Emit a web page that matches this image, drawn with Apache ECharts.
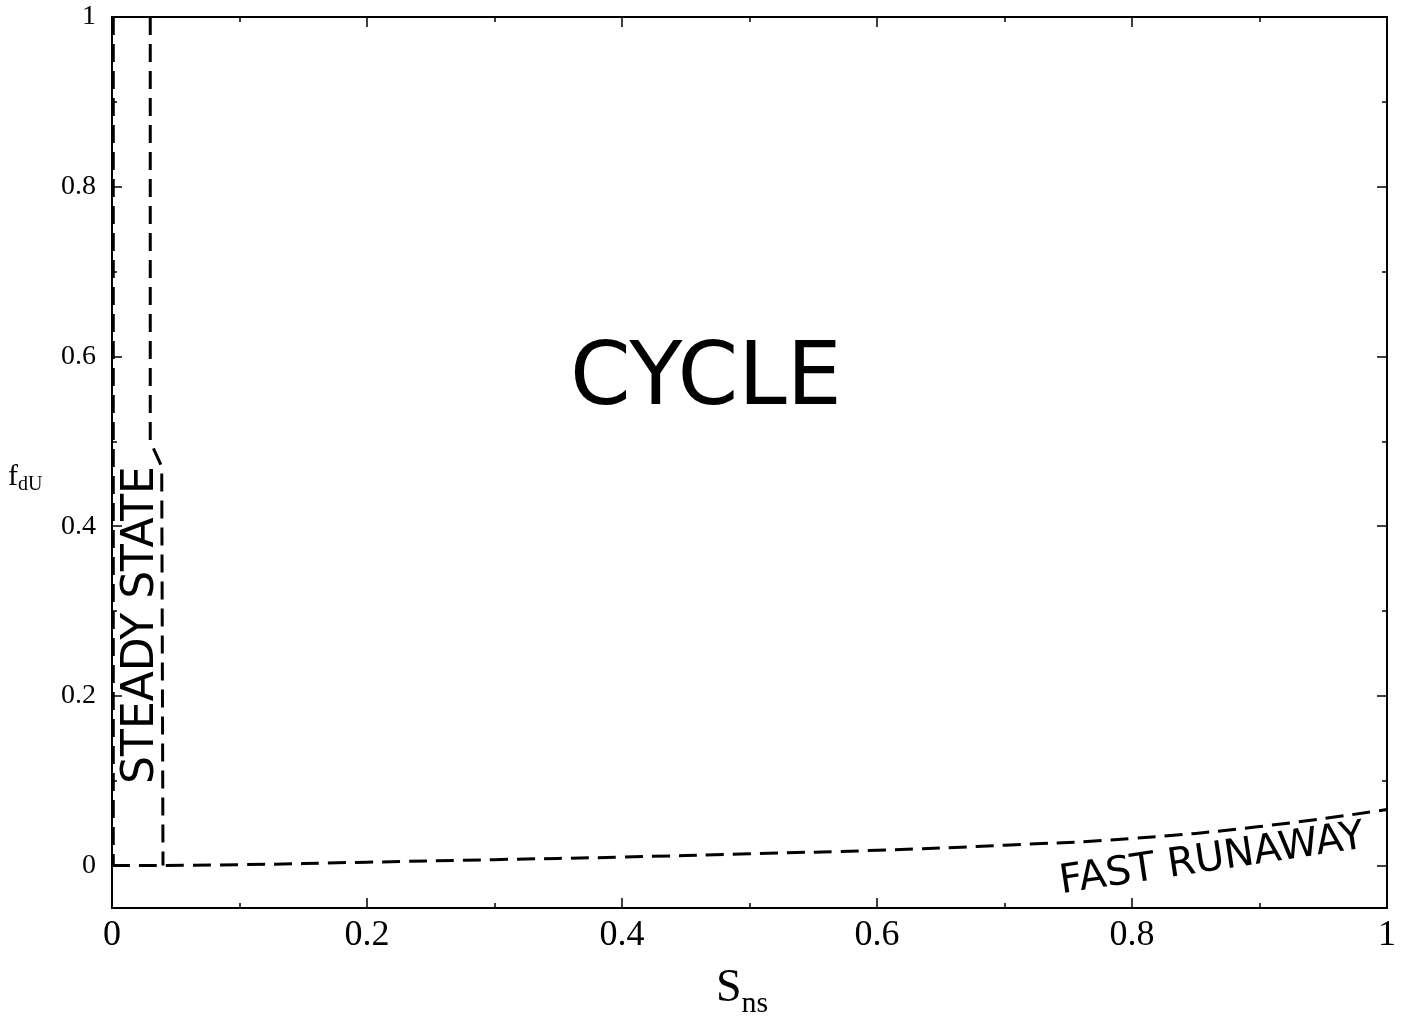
<!DOCTYPE html>
<html><head><meta charset="utf-8">
<script src="https://cdn.jsdelivr.net/npm/echarts@6/dist/echarts.min.js"></script>
<style>html,body{margin:0;padding:0;background:#fff}#c{width:1402px;height:1029px}</style>
</head><body><div id="c"></div>
<script>
const xTicks=[0,0.2,0.4,0.6,0.8,1];
const yTicks=[0,0.2,0.4,0.6,0.8,1];
const yMinor=[0.1,0.3,0.5,0.7,0.9];
const leftEdge=[[0.001,1],[0.001,0]];
const steadyBoundary=[[0.03,1],[0.03,0.5],[0.039,0.47],[0.04,0]];
const runawayBoundary=[[0,0],[0.1,0.001],[0.2,0.004],[0.3,0.007],[0.4,0.01],[0.5,0.014],[0.6,0.018],[0.7,0.024],[0.8,0.032],[0.9,0.046],[1,0.066]];
const chart=echarts.init(document.getElementById('c'));
const F='Liberation Serif';
const line={show:true,onZero:false,lineStyle:{color:'#000',width:2}};
const tick=(len,vals)=>({show:true,inside:true,length:len,customValues:vals,lineStyle:{color:'#000',width:1.5}});
const xa=(pos,show)=>({type:'value',position:pos,min:0,max:1,interval:0.2,axisLine:line,
 axisTick:{show:true,inside:true,length:10,lineStyle:{color:'#000',width:1.5}},
 minorTick:{show:true,splitNumber:2,length:5,lineStyle:{color:'#000',width:1.5}},
 splitLine:{show:false},
 axisLabel:{show:show,color:'#000',fontFamily:F,fontSize:36,margin:10,formatter:v=>String(+v.toFixed(1))}});
const ya=(pos,show,len,vals)=>({type:'value',position:pos,min:-0.05,max:1,axisLine:line,
 axisTick:tick(len,vals),splitLine:{show:false},
 axisLabel:{show:show,customValues:yTicks,color:'#000',fontFamily:F,fontSize:28,margin:16,formatter:v=>String(+(+v).toFixed(1))}});
const dash={color:'#000',width:3,type:[18,9]};
chart.setOption({
 animation:false,
 grid:{left:112,right:15,top:17,bottom:121},
 xAxis:[xa('bottom',true),xa('top',false)],
 yAxis:[ya('left',true,10,yTicks),ya('right',false,10,yTicks),ya('left',false,5,yMinor),ya('right',false,5,yMinor)],
 series:[
  {type:'line',data:leftEdge,symbol:'none',lineStyle:dash},
  {type:'line',data:steadyBoundary,symbol:'none',lineStyle:dash},
  {type:'line',data:runawayBoundary,symbol:'none',smooth:true,lineStyle:dash}
 ],
 graphic:[
  {type:'text',left:570,top:338,style:{text:'CYCLE',font:'87px "DejaVu Sans"',fill:'#000'}},
  {type:'text',x:142,y:625,rotation:Math.PI/2,style:{text:'STEADY STATE',font:'44px "DejaVu Sans"',fill:'#000',align:'center',verticalAlign:'middle'}},
  {type:'text',x:1212,y:860,rotation:0.15,style:{text:'FAST RUNAWAY',font:'40px "DejaVu Sans"',fill:'#000',align:'center',verticalAlign:'middle'}},
  {type:'text',left:716,top:966,style:{rich:{a:{font:'46px "Liberation Serif"',fill:'#000'},b:{font:'30px "Liberation Serif"',fill:'#000',padding:[30,0,0,0]}},text:'{a|S}{b|ns}'}},
  {type:'text',left:8,top:462,style:{rich:{a:{font:'30px "Liberation Serif"',fill:'#000'},b:{font:'20px "Liberation Serif"',fill:'#000',padding:[16,0,0,0]}},text:'{a|f}{b|dU}'}}
 ]
});
</script></body></html>
